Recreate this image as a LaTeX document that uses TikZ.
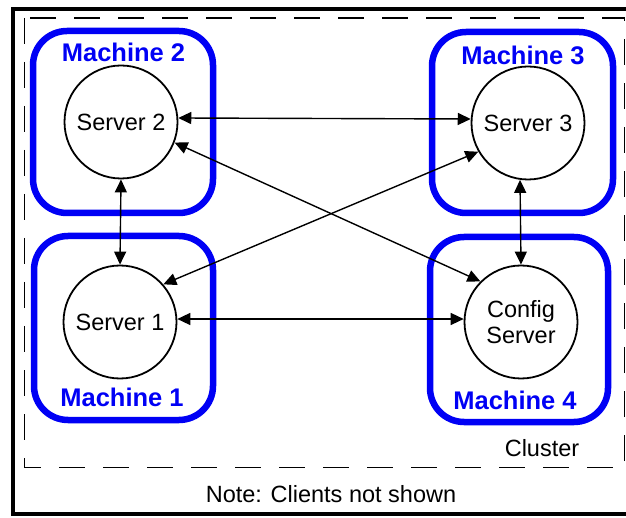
\documentclass[tikz,border=0pt]{standalone}
\usepackage{fontspec}
\setmainfont{Liberation Sans}
\usetikzlibrary{arrows.meta}
\definecolor{machineblue}{RGB}{0,0,245}
\tikzset{
  machinebox/.style={draw=machineblue, line width=6.5pt, rounded corners=34pt},
  machinelabel/.style={text=machineblue, font=\fontsize{25.5}{30}\selectfont\bfseries, inner sep=0pt},
  server/.style={circle, draw, line width=1.8pt, minimum size=113pt, inner sep=0pt,
    font=\fontsize{23.5}{26}\selectfont, align=center},
  link/.style={line width=1.4pt, {Triangle[length=13pt,width=12pt]}-{Triangle[length=13pt,width=12pt]}},
  plain/.style={font=\fontsize{23.5}{26}\selectfont, inner sep=0pt}
}
\begin{document}
\begin{tikzpicture}[x=1pt,y=-1pt]
  \useasboundingbox (0,0) rectangle (626,518);
  % outer frame and dashed cluster boundary
  \draw[line width=4pt] (12.5,9.5) rectangle (640,514);
  \draw[line width=1.6pt, dash pattern=on 26pt off 18pt] (24.5,18) rectangle (624.5,467.5);
  % machines
  \draw[machinebox] (33,31) rectangle (213,213);
  \draw[machinebox] (432,32) rectangle (613,213);
  \draw[machinebox] (34,236) rectangle (213,420);
  \draw[machinebox] (430,237) rectangle (608,422);
  \node[machinelabel] (m2) at (123.5,52) {Machine 2};
  \node[machinelabel] (m3) at (523,55) {Machine 3};
  \node[machinelabel] (m1) at (122,397) {Machine 1};
  \node[machinelabel] (m4) at (515,400) {Machine 4};
  % servers
  \node[server] (s2) at (121,122) {Server 2};
  \node[server] (s3) at (528,123) {Server 3};
  \node[server] (s1) at (120,322) {Server 1};
  \node[server] (cfg) at (521,322) {Config\\Server};
  % connections
  \draw[link] (s2.4) -- (s3.176);
  \draw[link] (s1.3) -- (cfg.177);
  \draw[link] (s2.south) -- (s1.north);
  \draw[link] (s3.-98) -- (cfg.north);
  \draw[link] (s2.-21) -- (cfg.135);
  \draw[link] (s3.210) -- (s1.41);
  % captions
  \node[plain] (cl) at (542,448) {Cluster};
  \node[plain] (note) at (331,494) {Note: Clients not shown};
\end{tikzpicture}
\end{document}
